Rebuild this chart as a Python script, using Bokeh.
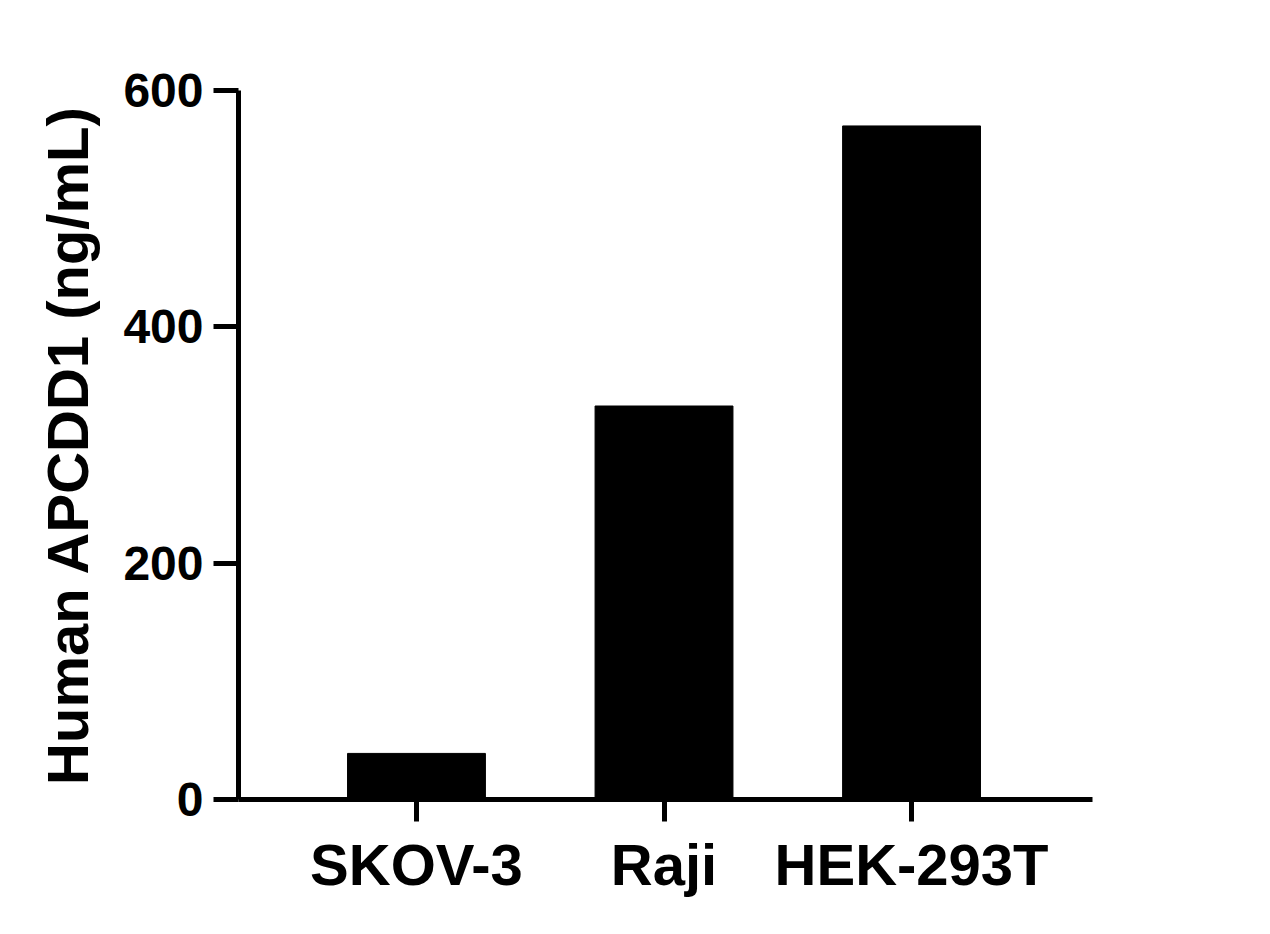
from bokeh.plotting import figure
from bokeh.models import ColumnDataSource, Range1d, FixedTicker
from bokeh.embed import file_html
from bokeh.resources import INLINE

categories = ["SKOV-3", "Raji", "HEK-293T"]
values = [39, 333, 570]
y_ticks = [0, 200, 400, 600]

xs = [i + 1 for i in range(len(categories))]
source = ColumnDataSource(data=dict(x=xs, top=values, name=categories))

p = figure(width=1254, height=921, output_backend="svg", toolbar_location=None,
           x_range=Range1d(0.281, 3.731), y_range=Range1d(0, 600),
           min_border_left=238, min_border_right=162, min_border_top=90, min_border_bottom=122,
           frame_width=854, frame_height=709)

p.vbar(x="x", top="top", width=0.557, bottom=0, source=source, color="black", line_color="black")

p.xgrid.visible = False
p.ygrid.visible = False
p.outline_line_color = None
p.background_fill_color = "white"
p.border_fill_color = "white"

font = "Liberation Sans"

p.xaxis.ticker = FixedTicker(ticks=xs)
p.xaxis.major_label_overrides = {x: c for x, c in zip(xs, categories)}
p.xaxis.minor_tick_line_color = None
p.xaxis.major_tick_out = 22
p.xaxis.major_tick_in = 0
p.xaxis.axis_line_width = 5
p.xaxis.major_tick_line_width = 5
p.xaxis.major_label_text_font = font
p.xaxis.major_label_text_font_style = "bold"
p.xaxis.major_label_text_font_size = "58px"
p.xaxis.major_label_text_color = "black"
p.xaxis.major_label_standoff = 10

p.yaxis.ticker = FixedTicker(ticks=y_ticks)
p.yaxis.minor_tick_line_color = None
p.yaxis.major_tick_out = 25
p.yaxis.major_tick_in = 0
p.yaxis.axis_line_width = 5
p.yaxis.major_tick_line_width = 5
p.yaxis.major_label_text_font = font
p.yaxis.major_label_text_font_style = "bold"
p.yaxis.major_label_text_font_size = "48px"
p.yaxis.major_label_text_color = "black"
p.yaxis.major_label_standoff = 10
p.yaxis.axis_label = "Human APCDD1 (ng/mL)"
p.yaxis.axis_label_text_font = font
p.yaxis.axis_label_text_font_style = "bold"
p.yaxis.axis_label_text_font_size = "58px"
p.yaxis.axis_label_text_color = "black"
p.yaxis.axis_label_standoff = 20

open("out.html", "w").write(file_html(p, INLINE))
